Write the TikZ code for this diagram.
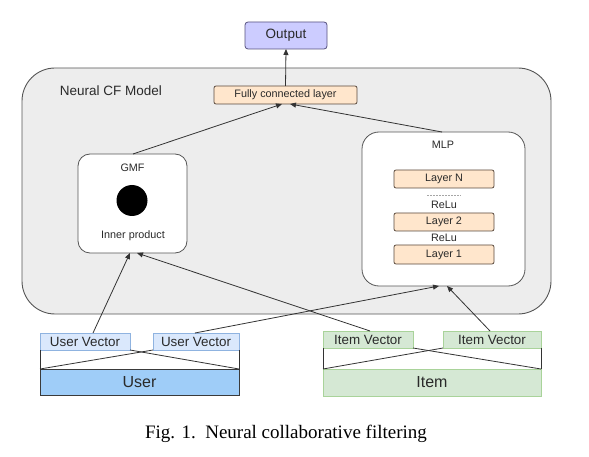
\documentclass[tikz,border=0pt]{standalone}
\usepackage{fontspec}
\setmainfont{Liberation Serif}
\newfontfamily\arial{Liberation Sans}
\usetikzlibrary{arrows.meta,calc}
\definecolor{outfill}{HTML}{CCCCFF}
\definecolor{outdraw}{HTML}{56517E}
\definecolor{contfill}{HTML}{EDEDED}
\definecolor{contdraw}{HTML}{555555}
\definecolor{orfill}{HTML}{FFE6CC}
\definecolor{ordraw}{HTML}{5A4A3E}
\definecolor{uvfill}{HTML}{DAE8FC}
\definecolor{uvdraw}{HTML}{8FB3E0}
\definecolor{userfill}{HTML}{9FCDF8}
\definecolor{userdraw}{HTML}{3A3A3A}
\definecolor{grfill}{HTML}{D5E8D4}
\definecolor{grdraw}{HTML}{A9D39A}
\definecolor{linec}{HTML}{333333}
\definecolor{txt}{HTML}{2A2A2A}
\tikzset{
  base/.style={inner sep=0pt, outer sep=0pt, font=\arial, text=txt},
  orbox/.style={base, draw=ordraw, fill=orfill, rounded corners=2pt, line width=0.8pt, font=\arial\fontsize{10.8}{12}\selectfont},
  uvbox/.style={base, draw=uvdraw, fill=uvfill, line width=0.8pt, minimum height=17pt, font=\arial\fontsize{13.4}{15}\selectfont},
  ivbox/.style={base, draw=grdraw, fill=grfill, line width=0.8pt, minimum height=17pt, font=\arial\fontsize{13.4}{15}\selectfont},
  lbl/.style={base, font=\arial\fontsize{10.8}{12}\selectfont},
  conn/.style={draw=linec, line width=0.8pt},
  arr/.style={conn, -{Triangle[length=6pt,width=5pt]}},
}
\begin{document}
\begin{tikzpicture}[x=1pt,y=-1pt]
\useasboundingbox (0,0) rectangle (589,457);
% container
\node[base, draw=contdraw, fill=contfill, line width=0.9pt, rounded corners=33pt, minimum width=529pt, minimum height=246pt] (cont) at (286.5,191) {};
\node[base, font=\arial\fontsize{13.5}{15}\selectfont] (title) at (111,91) {Neural CF Model};
% output
\node[base, draw=outdraw, fill=outfill, rounded corners=3pt, line width=0.8pt, minimum width=82pt, minimum height=27pt, font=\arial\fontsize{13.5}{15}\selectfont] (out) at (286,35.5) {Output};
% fully connected
\node[orbox, minimum width=143pt, minimum height=18pt] (fc) at (285.5,95) {Fully connected layer};
% GMF
\node[base, draw=contdraw, fill=white, rounded corners=12pt, line width=0.8pt, minimum width=109pt, minimum height=99pt] (gmf) at (132.5,203.5) {};
\node[lbl] (gmft) at (132.5,168) {GMF};
\node[base, circle, fill=black, minimum size=31pt] (dot) at (132,200.5) {};
\node[lbl] (inner) at (133,236) {Inner product};
% MLP
\node[base, draw=contdraw, fill=white, rounded corners=17pt, line width=0.8pt, minimum width=163pt, minimum height=154pt] (mlp) at (443.5,209) {};
\node[lbl] (mlpt) at (443,145) {MLP};
\node[orbox, minimum width=100pt, minimum height=18pt] (ln) at (444,179) {Layer N};
\coordinate (dl) at (427,195);
\coordinate (dr) at (461,195);
\draw[gray!70, line width=0.5pt, dash pattern=on 1.5pt off 1.5pt] (dl) -- (dr);
\node[lbl] (relu2) at (444,204.5) {ReLu};
\node[orbox, minimum width=100pt, minimum height=18pt] (l2) at (444,222) {Layer 2};
\node[lbl] (relu1) at (444,238) {ReLu};
\node[orbox, minimum width=100pt, minimum height=19pt] (l1) at (444,254.5) {Layer 1};
% user side
\node[uvbox, minimum width=90pt] (uv1) at (85,341.5) {User Vector};
\node[uvbox, minimum width=86pt] (uv2) at (196,341.5) {User Vector};
\node[base, draw=userdraw, fill=userfill, line width=0.8pt, minimum width=199pt, minimum height=26pt, font=\arial\fontsize{16}{18}\selectfont] (user) at (139.5,382) {User};
\draw[conn] (user.north west) -- (uv1.south west);
\draw[conn] (user.north east) -- (uv2.south east);
\draw[conn] (user.north west) -- (uv2.south west);
\draw[conn] (uv1.south east) -- (user.north east);
% item side
\node[ivbox, minimum width=90pt] (iv1) at (368,339.5) {Item Vector};
\node[ivbox, minimum width=98pt] (iv2) at (492,339.5) {Item Vector};
\node[base, draw=grdraw, fill=grfill, line width=0.8pt, minimum width=218pt, minimum height=27pt, font=\arial\fontsize{16}{18}\selectfont] (item) at (432,382.5) {Item};
\draw[conn] (item.north west) -- (iv1.south west);
\draw[conn] (item.north east) -- (iv2.south east);
\draw[conn] (item.north west) -- (iv2.south west);
\draw[conn] (iv1.south east) -- (item.north east);
% arrows
\draw[arr] (fc.north) -- (out.south);
\draw[arr] ($(gmf.north)+(0.5,0)$) -- ($(fc.south)+(-3.5,0)$);
\draw[arr] ($(mlp.north)+(-1.5,0)$) -- ($(fc.south)+(4.5,0)$);
\draw[arr] ($(uv1.north)+(8,0)$) -- ($(gmf.south)+(-2.5,0)$);
\draw[arr] ($(iv1.north)+(2,0)$) -- ($(gmf.south)+(4.5,0)$);
\draw[arr] ($(uv2.north)+(-1,0)$) -- ($(mlp.south)+(-4.5,0)$);
\draw[arr] ($(iv2.north)+(-2,0)$) -- ($(mlp.south)+(3.5,0)$);
% caption
\node[inner sep=0pt, outer sep=0pt, font=\fontsize{19}{21}\selectfont] (cap) at (286,434) {Fig. 1.\ \ Neural collaborative filtering};
\end{tikzpicture}
\end{document}
